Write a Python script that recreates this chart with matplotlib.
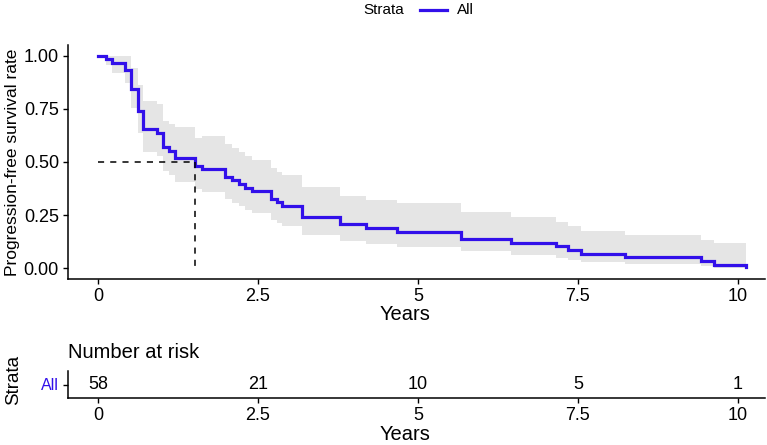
import matplotlib
matplotlib.use("Agg")
import matplotlib.pyplot as plt
from matplotlib.lines import Line2D

plt.rcParams['font.family'] = ['Liberation Sans', 'DejaVu Sans']

# Kaplan-Meier steps
times = [0, 0.125, 0.22, 0.42, 0.52, 0.62, 0.71, 0.92, 1.01, 1.11, 1.21, 1.52, 1.62,
         1.99, 2.10, 2.20, 2.30, 2.40, 2.70, 2.80, 2.87, 3.19, 3.78, 4.18, 4.67,
         5.67, 6.45, 7.15, 7.35, 7.54, 8.24, 9.42, 9.62, 10.12]
surv = [1.0, 0.983, 0.966, 0.931, 0.845, 0.741, 0.655, 0.638, 0.569, 0.552, 0.517,
        0.483, 0.466, 0.431, 0.414, 0.397, 0.379, 0.362, 0.328, 0.310, 0.293, 0.241,
        0.207, 0.190, 0.172, 0.138, 0.121, 0.103, 0.086, 0.069, 0.052, 0.034, 0.017, 0.005]
upper = [1.0, 1.0, 1.0, 1.0, 0.942, 0.863, 0.788, 0.775, 0.693, 0.68, 0.665, 0.615,
         0.62, 0.583, 0.565, 0.546, 0.528, 0.509, 0.473, 0.454, 0.439, 0.381, 0.34,
         0.321, 0.305, 0.265, 0.242, 0.219, 0.198, 0.176, 0.156, 0.135, 0.121, 0.121]
lower = [1.0, 0.955, 0.918, 0.871, 0.755, 0.637, 0.549, 0.53, 0.46, 0.44, 0.407,
         0.375, 0.36, 0.324, 0.308, 0.292, 0.274, 0.258, 0.226, 0.211, 0.198, 0.156,
         0.129, 0.113, 0.10, 0.08, 0.061, 0.05, 0.038, 0.03, 0.019, 0.009, 0.002, 0.002]
median_time = 1.52

risk_times = [0, 2.5, 5, 7.5, 10]
risk_counts = [58, 21, 10, 5, 1]
x_ticks = [0, 2.5, 5, 7.5, 10]
x_ticklabels = ['0', '2.5', '5', '7.5', '10']
y_ticks = [0, 0.25, 0.5, 0.75, 1.0]
y_ticklabels = ['0.00', '0.25', '0.50', '0.75', '1.00']

blue = '#3210ea'
W, H = 767, 445
fig = plt.figure(figsize=(W / 100, H / 100), dpi=100)

def box(l, t, r, b):
    return [l / W, 1 - b / H, (r - l) / W, (b - t) / H]

xlim = (-30 / 64, 667 / 64)

# main plot
ax = fig.add_axes(box(68, 45, 765, 279))
ax.fill_between(times, lower, upper, step='post', color='#e5e5e5', lw=0)
ax.step(times, surv, where='post', color=blue, lw=2.3, solid_joinstyle='miter')
ax.plot([0, median_time], [0.5, 0.5], color='black', lw=1.1, ls=(0, (4, 4)))
ax.plot([median_time, median_time], [0.5, 0], color='black', lw=1.1, ls=(0, (4, 4)))
ax.set_xlim(*xlim)
ax.set_ylim(-0.05, 1.05)
ax.set_xticks(x_ticks)
ax.set_xticklabels(x_ticklabels, fontsize=13)
ax.set_yticks(y_ticks)
ax.set_yticklabels(y_ticklabels, fontsize=13)
for s in ['top', 'right']:
    ax.spines[s].set_visible(False)
for s in ['left', 'bottom']:
    ax.spines[s].set_linewidth(1.1)
ax.tick_params(length=3.5, width=1, pad=3)
ax.set_xlabel('Years', fontsize=14.5)
ax.xaxis.set_label_coords((405 - 68) / 697, -(314 - 279) / 234, transform=ax.transAxes)
ax.xaxis.label.set_va('center')
ax.set_ylabel('Progression-free survival rate', fontsize=12.5)
ax.yaxis.set_label_coords(-(68 - 12) / 697, 0.5)
ax.yaxis.label.set_va('center')

# legend on top
fig.text(384 / W, 1 - 10 / H, 'Strata', fontsize=11, ha='center', va='center')
fig.add_artist(Line2D([420 / W, 447 / W], [1 - 10 / H, 1 - 10 / H], color=blue, lw=2.3))
fig.text(457 / W, 1 - 10 / H, 'All', fontsize=11, ha='left', va='center')

# risk table
tab = fig.add_axes(box(68, 371, 765, 398))
tab.set_xlim(*xlim)
tab.set_ylim(0, 1)
for t, n in zip(risk_times, risk_counts):
    tab.text(t, 0.5, str(n), fontsize=13, ha='center', va='center')
tab.set_xticks(x_ticks)
tab.set_xticklabels(x_ticklabels, fontsize=13)
tab.set_yticks([0.5])
tab.set_yticklabels(['All'], fontsize=11.5, color=blue)
for s in ['top', 'right']:
    tab.spines[s].set_visible(False)
for s in ['left', 'bottom']:
    tab.spines[s].set_linewidth(1.1)
tab.tick_params(length=3.5, width=1, pad=3)
tab.set_xlabel('Years', fontsize=14.5)
tab.xaxis.set_label_coords((405 - 68) / 697, -(434 - 398) / 27, transform=tab.transAxes)
tab.xaxis.label.set_va('center')
tab.set_ylabel('Strata', fontsize=13.5)
tab.yaxis.set_label_coords(-(68 - 14) / 697, (398 - 380) / 27)
tab.yaxis.label.set_va('center')
fig.text(68 / W, 1 - 352 / H, 'Number at risk', fontsize=14.5, ha='left', va='center')

fig.savefig('out.png', dpi=100)
